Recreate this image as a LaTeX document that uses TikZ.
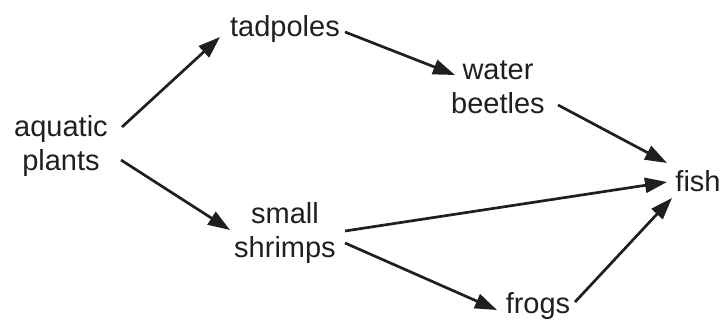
\documentclass[tikz,border=0pt]{standalone}
\usepackage{fontspec}
\setmainfont{Liberation Sans}
\usetikzlibrary{arrows.meta}
\begin{document}
\begin{tikzpicture}[x=1pt,y=-1pt,
  lbl/.style={align=center,inner sep=0pt,font=\fontsize{29}{34}\selectfont,text=black!88},
  link/.style={line width=2.7pt,draw=black!88,-{Triangle[length=22pt,width=15pt]}}]
\useasboundingbox (0,0) rectangle (725,329);
\node[lbl] (A) at (61,146) {aquatic\\plants};
\node[lbl] (T) at (285,29) {tadpoles};
\node[lbl] (B) at (498,87) {water\\beetles};
\node[lbl] (F) at (698,181) {fish};
\node[lbl] (S) at (285,233) {small\\shrimps};
\node[lbl] (R) at (538,306) {frogs};
\draw[link] ([shift={(61,-19)}]A.center) -- ([shift={(-65,8)}]T.center);
\draw[link] ([shift={(60,14)}]A.center) -- ([shift={(-55,-3)}]S.center);
\draw[link] ([shift={(60,3)}]T.center) -- ([shift={(-43,-12)}]B.center);
\draw[link] ([shift={(60,18)}]B.center) -- ([shift={(-31,-18)}]F.center);
\draw[link] ([shift={(60,-2)}]S.center) -- ([shift={(-31,1)}]F.center);
\draw[link] ([shift={(60,10)}]S.center) -- ([shift={(-41,4)}]R.center);
\draw[link] ([shift={(37,-4)}]R.center) -- ([shift={(-26,17)}]F.center);
\end{tikzpicture}
\end{document}
